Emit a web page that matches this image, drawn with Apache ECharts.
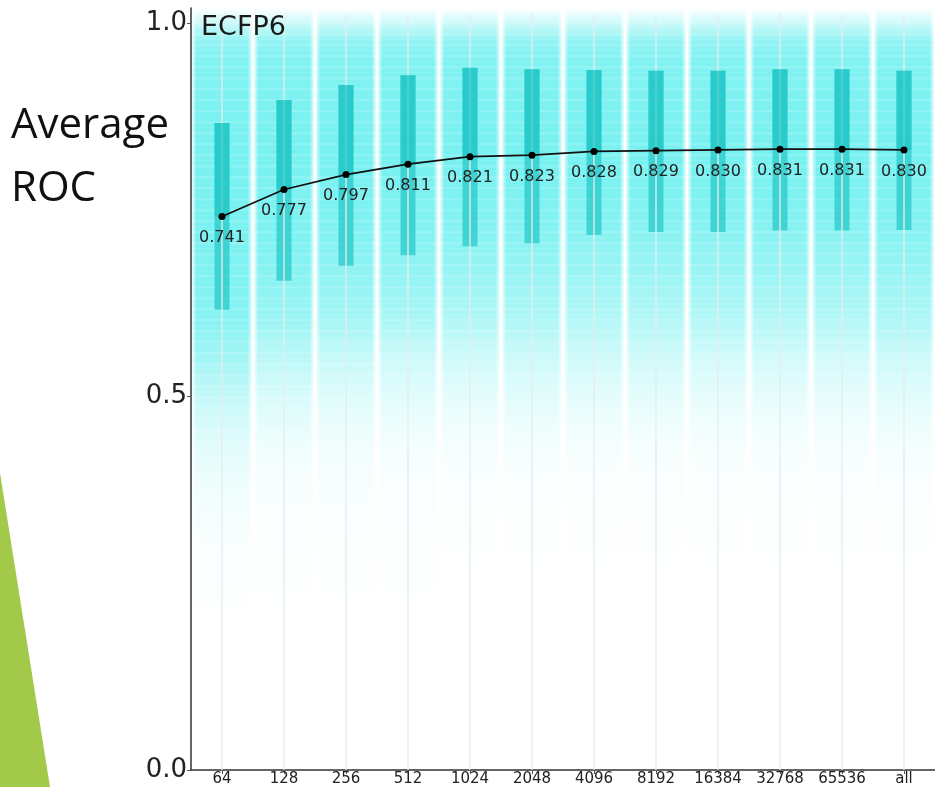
<!DOCTYPE html>
<html>
<head>
<meta charset="utf-8">
<script src="https://cdn.jsdelivr.net/npm/echarts@6/dist/echarts.min.js"></script>
<style>
html,body{margin:0;padding:0;background:#fff;}
#chart{width:935px;height:787px;}
</style>
</head>
<body>
<div id="chart"></div>
<script>
// ---- data ----
var categories = ['64','128','256','512','1024','2048','4096','8192','16384','32768','65536','all'];
var meanRoc = [0.741,0.777,0.797,0.811,0.821,0.823,0.828,0.829,0.830,0.831,0.831,0.830];
var upperQuartile = [0.866,0.897,0.917,0.930,0.940,0.938,0.937,0.936,0.936,0.938,0.938,0.936];
var lowerQuartile = [0.616,0.655,0.675,0.689,0.701,0.705,0.716,0.720,0.720,0.722,0.722,0.723];
var yTickValues = [0, 0.5, 1.0];
// density of individual per-target ROC values (relative, 0..1) at these ROC levels
var densityLevels = [1.02,1.00,0.975,0.95,0.90,0.85,0.80,0.75,0.70,0.65,0.60,0.55,0.50,0.45,0.40,0.35,0.30,0.25,0.20];
var density64    = [0,0.35,0.75,0.85,0.88,0.90,0.90,0.90,0.88,0.85,0.80,0.62,0.40,0.24,0.14,0.08,0.04,0.03,0];
var density128   = [0,0.35,0.75,0.85,0.88,0.90,0.90,0.88,0.85,0.78,0.66,0.45,0.26,0.14,0.07,0.04,0.03,0.01,0];
var density256   = [0,0.35,0.75,0.85,0.88,0.90,0.90,0.88,0.82,0.72,0.60,0.38,0.22,0.12,0.07,0.04,0.02,0.01,0];
var density512   = [0,0.35,0.75,0.85,0.88,0.90,0.90,0.86,0.80,0.70,0.56,0.34,0.20,0.10,0.05,0.03,0.02,0.01,0];
var density1024  = [0,0.35,0.75,0.85,0.88,0.90,0.90,0.85,0.78,0.66,0.52,0.32,0.18,0.09,0.05,0.02,0.01,0,0];
var density2048  = [0,0.35,0.75,0.85,0.88,0.90,0.90,0.85,0.78,0.66,0.54,0.34,0.20,0.10,0.05,0.02,0.01,0,0];
var density4096  = [0,0.35,0.75,0.85,0.88,0.90,0.90,0.85,0.76,0.64,0.50,0.32,0.18,0.09,0.04,0.02,0.01,0,0];
var density8192  = [0,0.35,0.75,0.85,0.88,0.90,0.90,0.85,0.76,0.64,0.50,0.32,0.18,0.09,0.04,0.02,0.01,0,0];
var density16384 = [0,0.35,0.75,0.85,0.88,0.90,0.90,0.85,0.76,0.64,0.50,0.30,0.17,0.08,0.04,0.02,0.01,0,0];
var density32768 = [0,0.35,0.75,0.85,0.88,0.90,0.90,0.85,0.76,0.64,0.50,0.30,0.17,0.08,0.04,0.02,0.01,0,0];
var density65536 = [0,0.35,0.75,0.85,0.88,0.90,0.90,0.85,0.76,0.64,0.50,0.30,0.17,0.08,0.04,0.02,0.01,0,0];
var densityAll   = [0,0.35,0.75,0.85,0.88,0.90,0.90,0.85,0.78,0.66,0.54,0.34,0.20,0.10,0.05,0.02,0.01,0,0];
var densities = [density64,density128,density256,density512,density1024,density2048,density4096,density8192,density16384,density32768,density65536,densityAll];

var FONT = '"DejaVu Sans", Verdana, sans-serif';
var chart = echarts.init(document.getElementById('chart'), null, {renderer:'canvas'});

// soft streak texture (style only)
var streak = document.createElement('canvas');
streak.width = 8; streak.height = 11;
(function(){
  var g = streak.getContext('2d');
  g.fillStyle = 'rgba(255,255,255,0.14)';
  g.fillRect(0,0,8,2);
  g.fillStyle = 'rgba(255,255,255,0.07)';
  g.fillRect(0,2,8,1);
  g.fillRect(0,6,8,1);
})();

var idxData = categories.map(function(c,i){return [i, meanRoc[i], upperQuartile[i], lowerQuartile[i]];});

function stripeItem(params, api){
  var i = api.value(0);
  var c = api.coord([i, 0]);
  var bw = api.size([1, 0])[0];
  var top = api.coord([i, densityLevels[0]])[1];
  var bot = api.coord([i, densityLevels[densityLevels.length-1]])[1];
  var span = densityLevels[0] - densityLevels[densityLevels.length-1];
  var d = densities[i];
  var stops = densityLevels.map(function(lv, k){
    return {offset:(densityLevels[0]-lv)/span, color:'rgba(0,228,228,' + (d[k]*0.58).toFixed(3) + ')'};
  });
  var w = bw - 2;
  var x0 = c[0]-w/2;
  return {
    type:'group',
    children:[
      {type:'rect', shape:{x:x0, y:top, width:w, height:bot-top},
       style:{fill:new echarts.graphic.LinearGradient(0,0,0,1,stops)}},
      {type:'rect', shape:{x:x0, y:top, width:w, height:bot-top},
       style:{fill:{image:streak, repeat:'repeat'}}},
      {type:'rect', shape:{x:x0, y:top, width:w, height:bot-top},
       style:{fill:new echarts.graphic.LinearGradient(0,0,1,0,[
         {offset:0, color:'rgba(255,255,255,0.85)'},
         {offset:0.07, color:'rgba(255,255,255,0)'},
         {offset:0.93, color:'rgba(255,255,255,0)'},
         {offset:1, color:'rgba(255,255,255,0.85)'}])}}
    ]
  };
}

function boxItem(params, api){
  var i = api.value(0);
  var pMean = api.coord([i, api.value(1)]);
  var pQ3 = api.coord([i, api.value(2)]);
  var pQ1 = api.coord([i, api.value(3)]);
  var p0 = api.coord([i, 0]);
  var pTop = api.coord([i, 1.012]);
  var bwid = 15;
  var x = pMean[0];
  return {
    type:'group',
    children:[
      {type:'rect', shape:{x:x-bwid/2, y:pQ3[1], width:bwid, height:pQ1[1]-pQ3[1]},
       style:{fill:'rgba(36,200,200,0.72)'}},
      {type:'line', shape:{x1:x, y1:p0[1], x2:x, y2:pTop[1]},
       style:{stroke:'rgba(230,236,236,0.9)', lineWidth:1.5}},
      {type:'rect', shape:{x:x-bwid/2, y:pQ3[1], width:bwid, height:pMean[1]-pQ3[1]},
       style:{fill:'rgba(36,200,200,0.72)'}}
    ]
  };
}

var option = {
  animation:false,
  backgroundColor:'#fff',
  title:{text:'ECFP6', left:196, top:9, textStyle:{fontFamily:FONT, fontSize:27, fontWeight:'normal', color:'#1a1a1a'}},
  grid:{left:191, right:0, top:8, bottom:17, containLabel:false},
  xAxis:{
    type:'category', data:categories, boundaryGap:true,
    axisLine:{show:true, lineStyle:{color:'#333', width:1.5}},
    axisTick:{show:true, alignWithLabel:true, length:4, lineStyle:{color:'#555'}},
    axisLabel:{fontFamily:FONT, fontSize:15, color:'#222', margin:2, interval:0},
    splitLine:{show:false}
  },
  yAxis:{
    type:'value', min:0, max:1.02,
    axisLine:{show:true, lineStyle:{color:'#333', width:1.5}},
    axisTick:{show:true, length:4, lineStyle:{color:'#555'}, customValues:yTickValues},
    axisLabel:{fontFamily:FONT, fontSize:26, color:'#222', margin:4, customValues:yTickValues,
      formatter:function(v){return v.toFixed(1);}},
    splitLine:{show:false}
  },
  graphic:[
    {type:'polygon', shape:{points:[[0,473],[50,787],[0,787]]}, style:{fill:'#a2c94a'}, z:0},
    {type:'text', left:11, top:95, style:{text:'Average\nROC', fontFamily:'Open Sans', fontSize:42, lineHeight:63, fill:'#111'}}
  ],
  series:[
    {type:'custom', renderItem:stripeItem, data:idxData, z:1, silent:true},
    {type:'custom', renderItem:boxItem, data:idxData, z:2, silent:true},
    {type:'line', data:meanRoc, z:5,
     lineStyle:{color:'#111', width:1.7},
     itemStyle:{color:'#000'},
     symbol:'circle', symbolSize:7,
     label:{show:true, position:'bottom', distance:10, fontFamily:FONT, fontSize:16, color:'#222',
       formatter:function(p){return p.value.toFixed(3);}}
    }
  ]
};
chart.setOption(option);
</script>
</body>
</html>
